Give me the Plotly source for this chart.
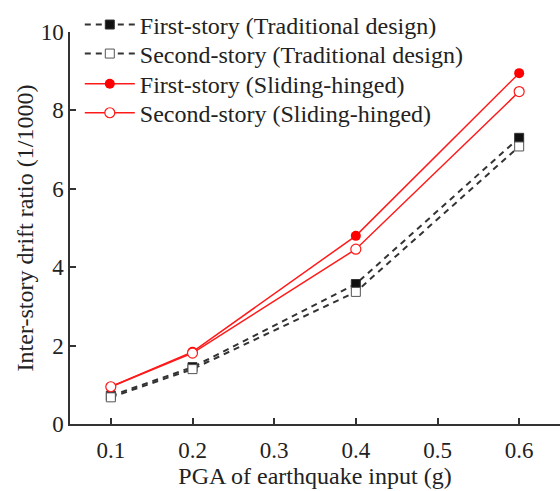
import plotly.graph_objects as go

pga = [0.1, 0.2, 0.4, 0.6]
first_trad = [0.72, 1.45, 3.57, 7.30]
second_trad = [0.68, 1.40, 3.37, 7.08]
first_slide = [0.95, 1.84, 4.80, 8.95]
second_slide = [0.95, 1.81, 4.46, 8.48]

names = ["First-story (Traditional design)", "Second-story (Traditional design)",
         "First-story (Sliding-hinged)", "Second-story (Sliding-hinged)"]
x_ticks = [0.1, 0.2, 0.3, 0.4, 0.5, 0.6]
y_ticks = [0, 2, 4, 6, 8, 10]

FONT = "Liberation Serif"
fig = go.Figure()
fig.add_trace(go.Scatter(x=pga, y=first_trad, name=names[0], mode="lines+markers",
                         line=dict(color="#333333", width=2, dash="6px,5px"),
                         marker=dict(symbol="square", size=9, color="#111111",
                                     line=dict(color="#333333", width=1)),
                         legend="legend"))
fig.add_trace(go.Scatter(x=pga, y=second_trad, name=names[1], mode="lines+markers",
                         line=dict(color="#333333", width=2, dash="6px,5px"),
                         marker=dict(symbol="square", size=9, color="white",
                                     line=dict(color="#555555", width=1)),
                         legend="legend2"))
fig.add_trace(go.Scatter(x=pga, y=first_slide, name=names[2], mode="lines+markers",
                         line=dict(color="#ff1a1a", width=1.5),
                         marker=dict(symbol="circle", size=10, color="#ff0000"),
                         legend="legend3"))
fig.add_trace(go.Scatter(x=pga, y=second_slide, name=names[3], mode="lines+markers",
                         line=dict(color="#ff1a1a", width=1.5),
                         marker=dict(symbol="circle", size=10, color="white",
                                     line=dict(color="#ff1a1a", width=1.2)),
                         legend="legend4"))

def leg(ypos):
    return dict(x=0.02, y=ypos, xanchor="left", yanchor="middle",
                bgcolor="rgba(0,0,0,0)", font=dict(family=FONT, size=24, color="#222222"),
                itemwidth=50)

fig.update_layout(
    width=560, height=491,
    margin=dict(l=70, r=0, t=32, b=67),
    paper_bgcolor="white", plot_bgcolor="white",
    font=dict(family=FONT, size=24, color="#222222"),
    showlegend=True,
    legend=leg(1.018), legend2=leg(0.944), legend3=leg(0.867), legend4=leg(0.793),
    xaxis=dict(range=[0.05, 0.65], tickvals=x_ticks, ticktext=[str(v) for v in x_ticks],
               showgrid=False, zeroline=False, showline=True, linecolor="#333333",
               linewidth=1.5, ticks="inside", ticklen=6, tickwidth=1.5, tickcolor="#333333",
               tickfont=dict(family=FONT, size=23), ticklabelstandoff=5,
               title=dict(text="PGA of earthquake input (g)", font=dict(family=FONT, size=24),
                          standoff=0)),
    yaxis=dict(range=[0, 10], tickvals=y_ticks, showgrid=False, zeroline=False,
               showline=True, linecolor="#333333", linewidth=1.5, ticks="inside",
               ticklen=6, tickwidth=1.5, tickcolor="#333333",
               tickfont=dict(family=FONT, size=23),
               title=dict(text="Inter-story drift ratio (1/1000)", font=dict(family=FONT, size=24),
                          standoff=0)),
)
fig.write_html("out.html")
